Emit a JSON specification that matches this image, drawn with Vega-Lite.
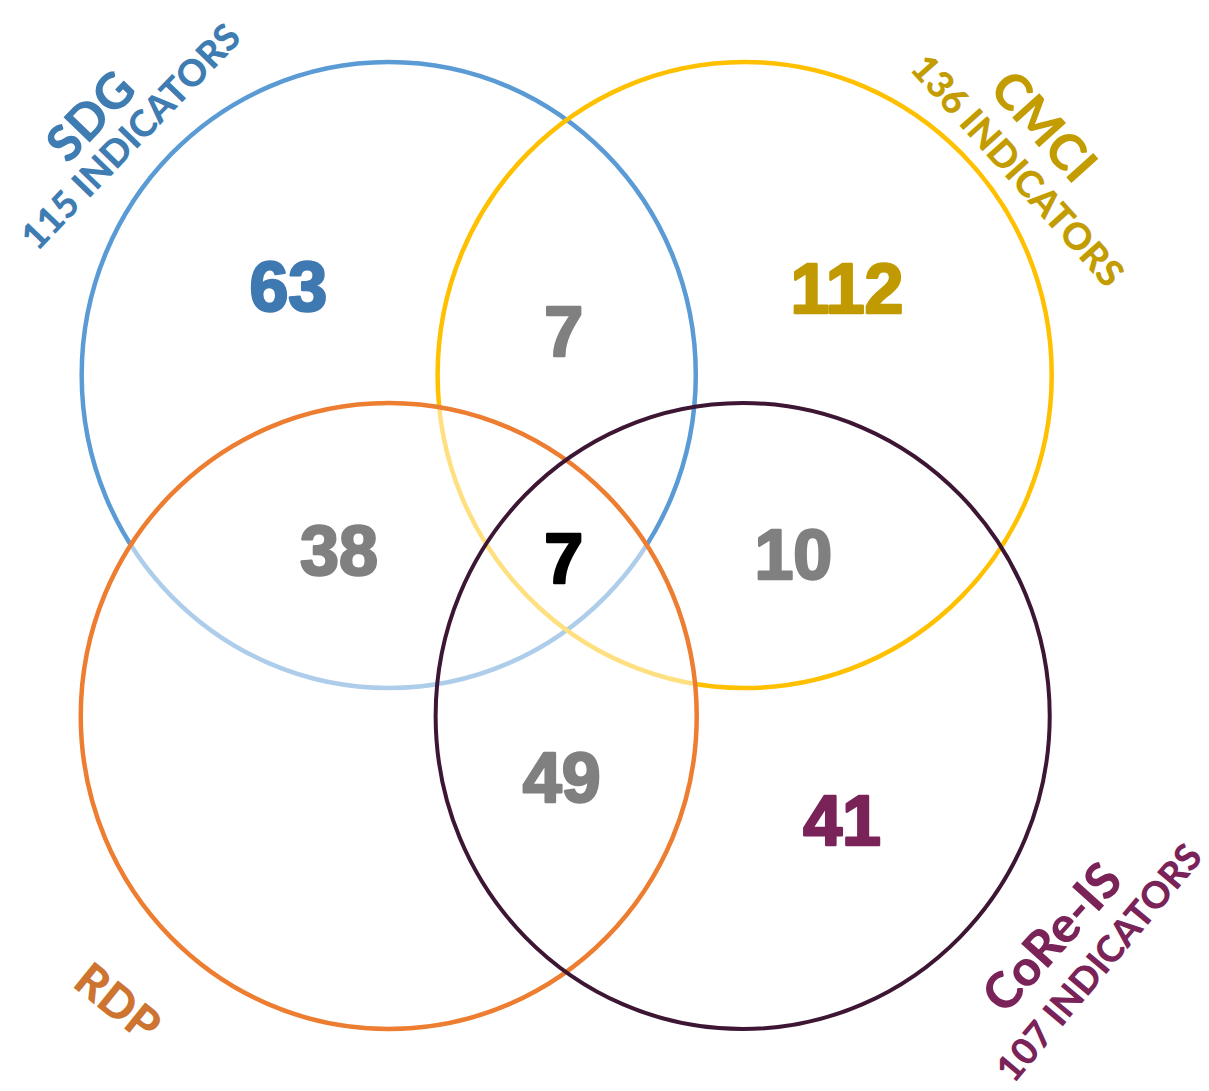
{
  "$schema": "https://vega.github.io/schema/vega-lite/v6.json",
  "width": 1209,
  "height": 1091,
  "autosize": {"type": "fit", "contains": "padding"},
  "padding": 0,
  "background": "white",
  "config": {"view": {"stroke": null}},
  "resolve": {"scale": {"stroke": "independent", "color": "independent"}},
  "datasets": {
    "circles": [
      {"set": "SDG", "cx": 391, "cy": 375},
      {"set": "CMCI", "cx": 749, "cy": 375},
      {"set": "RDP", "cx": 391, "cy": 716},
      {"set": "CoRe-IS", "cx": 747, "cy": 716}
    ],
    "counts": [
      {"region": "SDG only", "n": "63", "cx": 290, "cy": 286},
      {"region": "SDG & CMCI", "n": "7", "cx": 567, "cy": 331},
      {"region": "CMCI only", "n": "112", "cx": 852, "cy": 288},
      {"region": "SDG & RDP", "n": "38", "cx": 341, "cy": 550},
      {"region": "All four", "n": "7", "cx": 567, "cy": 558},
      {"region": "CMCI & CoRe-IS", "n": "10", "cx": 798, "cy": 554},
      {"region": "RDP & CoRe-IS", "n": "49", "cx": 565, "cy": 777},
      {"region": "CoRe-IS only", "n": "41", "cx": 847, "cy": 820}
    ],
    "labels": [
      {"set": "SDG", "line": "name", "text": "SDG", "cx": 93, "cy": 118},
      {"set": "SDG", "line": "count", "text": "115 INDICATORS", "cx": 133, "cy": 138},
      {"set": "CMCI", "line": "name", "text": "CMCI", "cx": 1048, "cy": 128},
      {"set": "CMCI", "line": "count", "text": "136 INDICATORS", "cx": 1022, "cy": 172},
      {"set": "RDP", "line": "name", "text": "RDP", "cx": 117, "cy": 1004},
      {"set": "CoRe-IS", "line": "name", "text": "CoRe-IS", "cx": 1060, "cy": 939},
      {"set": "CoRe-IS", "line": "count", "text": "107 INDICATORS", "cx": 1107, "cy": 964}
    ]
  },
  "encoding": {
    "x": {"field": "cx", "type": "quantitative", "scale": {"domain": [0, 1209], "nice": false, "zero": false}, "axis": null},
    "y": {"field": "cy", "type": "quantitative", "scale": {"domain": [0, 1091], "nice": false, "zero": false, "reverse": true}, "axis": null}
  },
  "layer": [
    {
      "data": {"name": "circles"},
      "transform": [{"filter": "datum.set === 'SDG' || datum.set === 'CMCI'"}],
      "mark": {"type": "point", "shape": "M -0.981,0 A 0.981,1 0 1,1 0.981,0 A 0.981,1 0 1,1 -0.981,0 Z", "size": 391876, "filled": false, "strokeWidth": 4.5, "opacity": 1},
      "encoding": {
        "stroke": {"field": "set", "type": "nominal", "scale": {"domain": ["SDG", "CMCI"], "range": ["#5B9BD5", "#FFC000"]}, "legend": null}
      }
    },
    {
      "data": {"name": "circles"},
      "transform": [{"filter": "datum.set === 'RDP'"}],
      "mark": {"type": "point", "shape": "M -0.984,0 A 0.984,1 0 1,1 0.984,0 A 0.984,1 0 1,1 -0.984,0 Z", "size": 391876, "filled": true, "fill": "white", "fillOpacity": 0.5, "stroke": "#ED7D31", "strokeOpacity": 1, "strokeWidth": 4.5, "opacity": 1}
    },
    {
      "data": {"name": "circles"},
      "transform": [{"filter": "datum.set === 'CoRe-IS'"}],
      "mark": {"type": "point", "shape": "M -0.981,0 A 0.981,1 0 1,1 0.981,0 A 0.981,1 0 1,1 -0.981,0 Z", "size": 391876, "filled": false, "stroke": "#3D1633", "strokeWidth": 4, "opacity": 1}
    },
    {
      "data": {"name": "counts"},
      "mark": {"type": "text", "font": "Liberation Sans", "fontWeight": "bold", "fontSize": 70, "align": "center", "baseline": "middle", "dy": 4, "strokeWidth": 2.5, "strokeJoin": "round"},
      "encoding": {
        "text": {"field": "n"},
        "color": {"field": "region", "type": "nominal", "scale": {"domain": ["SDG only", "SDG & CMCI", "CMCI only", "SDG & RDP", "All four", "CMCI & CoRe-IS", "RDP & CoRe-IS", "CoRe-IS only"], "range": ["#3F79B1", "#808080", "#C09A00", "#808080", "#000000", "#808080", "#808080", "#7A2358"]}, "legend": null},
        "stroke": {"field": "region", "type": "nominal", "scale": {"domain": ["SDG only", "SDG & CMCI", "CMCI only", "SDG & RDP", "All four", "CMCI & CoRe-IS", "RDP & CoRe-IS", "CoRe-IS only"], "range": ["#3F79B1", "#808080", "#C09A00", "#808080", "#000000", "#808080", "#808080", "#7A2358"]}, "legend": null}
      }
    },
    {
      "data": {"name": "labels"},
      "transform": [{"filter": "datum.set === 'SDG' && datum.line === 'name'"}],
      "mark": {"type": "text", "font": "Lato", "fontWeight": 900, "fontSize": 50, "angle": -46, "align": "center", "baseline": "middle", "color": "#3F7CB2"},
      "encoding": {"text": {"field": "text"}}
    },
    {
      "data": {"name": "labels"},
      "transform": [{"filter": "datum.set === 'SDG' && datum.line === 'count'"}],
      "mark": {"type": "text", "font": "Lato", "fontWeight": 900, "fontSize": 37, "angle": -46, "align": "center", "baseline": "middle", "color": "#3F7CB2"},
      "encoding": {"text": {"field": "text"}}
    },
    {
      "data": {"name": "labels"},
      "transform": [{"filter": "datum.set === 'CMCI' && datum.line === 'name'"}],
      "mark": {"type": "text", "font": "Lato", "fontWeight": 900, "fontSize": 50, "angle": 48, "align": "center", "baseline": "middle", "color": "#C29C00"},
      "encoding": {"text": {"field": "text"}}
    },
    {
      "data": {"name": "labels"},
      "transform": [{"filter": "datum.set === 'CMCI' && datum.line === 'count'"}],
      "mark": {"type": "text", "font": "Lato", "fontWeight": 900, "fontSize": 37, "angle": 48, "align": "center", "baseline": "middle", "color": "#C29C00"},
      "encoding": {"text": {"field": "text"}}
    },
    {
      "data": {"name": "labels"},
      "transform": [{"filter": "datum.set === 'RDP'"}],
      "mark": {"type": "text", "font": "Lato", "fontWeight": 900, "fontSize": 46, "angle": 39, "align": "center", "baseline": "middle", "color": "#CC7430"},
      "encoding": {"text": {"field": "text"}}
    },
    {
      "data": {"name": "labels"},
      "transform": [{"filter": "datum.set === 'CoRe-IS' && datum.line === 'name'"}],
      "mark": {"type": "text", "font": "Lato", "fontWeight": 900, "fontSize": 50, "angle": -48, "align": "center", "baseline": "middle", "color": "#7A2358"},
      "encoding": {"text": {"field": "text"}}
    },
    {
      "data": {"name": "labels"},
      "transform": [{"filter": "datum.set === 'CoRe-IS' && datum.line === 'count'"}],
      "mark": {"type": "text", "font": "Lato", "fontWeight": 900, "fontSize": 37, "angle": -50, "align": "center", "baseline": "middle", "color": "#7A2358"},
      "encoding": {"text": {"field": "text"}}
    }
  ]
}
